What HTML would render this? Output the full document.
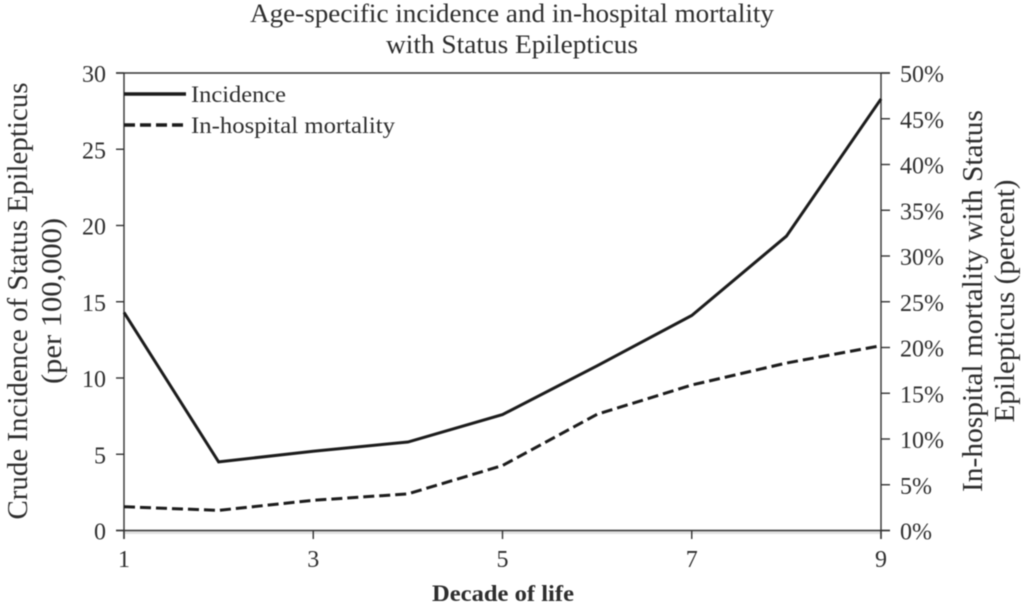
<!DOCTYPE html>
<html>
<head>
<meta charset="utf-8">
<style>
html,body{margin:0;padding:0;background:#fff;width:1024px;height:611px;overflow:hidden}
svg{display:block;filter:blur(.45px)}
text{font-family:"Liberation Serif","DejaVu Serif",serif;fill:#2e2e2e}
</style>
</head>
<body>
<svg id="chart" width="1024" height="611" viewBox="0 0 1024 611" xmlns="http://www.w3.org/2000/svg">
<rect width="1024" height="611" fill="#fff"/>
<text x="512" y="22" font-size="26" text-anchor="middle" textLength="524" lengthAdjust="spacingAndGlyphs">Age-specific incidence and in-hospital mortality</text>
<text x="512" y="53" font-size="26" text-anchor="middle" textLength="252" lengthAdjust="spacingAndGlyphs">with Status Epilepticus</text>
<text transform="translate(27 301) rotate(-90)" font-size="28" text-anchor="middle" textLength="437" lengthAdjust="spacingAndGlyphs">Crude Incidence of Status Epilepticus</text>
<text transform="translate(61 301) rotate(-90)" font-size="28" text-anchor="middle" textLength="166" lengthAdjust="spacingAndGlyphs">(per 100,000)</text>
<text transform="translate(982 301) rotate(-90)" font-size="28" text-anchor="middle" textLength="382" lengthAdjust="spacingAndGlyphs">In-hospital mortality with Status</text>
<text transform="translate(1014 301) rotate(-90)" font-size="28" text-anchor="middle" textLength="243" lengthAdjust="spacingAndGlyphs">Epilepticus (percent)</text>
<text x="503" y="601" font-size="23" font-weight="bold" text-anchor="middle" textLength="142" lengthAdjust="spacingAndGlyphs">Decade of life</text>
<rect x="125" y="531" width="756" height="3" fill="#e2e2e2"/>
<g id="axes"></g>
<g id="marks"></g>
<g>
<line x1="124" y1="94" x2="186" y2="94" stroke="#1c1c1c" stroke-width="3.4"/>
<text x="191" y="102" font-size="23" textLength="95" lengthAdjust="spacingAndGlyphs">Incidence</text>
<line x1="124" y1="125" x2="184" y2="125" stroke="#1c1c1c" stroke-width="3.4" stroke-dasharray="11 5"/>
<text x="191" y="133" font-size="23" textLength="204" lengthAdjust="spacingAndGlyphs">In-hospital mortality</text>
</g>
</svg>
<script>
const decades = [1, 2, 3, 4, 5, 6, 7, 8, 9];
const incidence = [14.3, 4.5, 5.2, 5.8, 7.6, 10.8, 14.1, 19.3, 28.3];
const mortality = [2.6, 2.2, 3.3, 4.0, 7.1, 12.7, 15.9, 18.3, 20.2];
const leftTicks = [0, 5, 10, 15, 20, 25, 30];
const rightTicks = [0, 5, 10, 15, 20, 25, 30, 35, 40, 45, 50];
const xTicks = [1, 3, 5, 7, 9];

const SVGNS = 'http://www.w3.org/2000/svg';
const plot = {left: 124, right: 881, top: 73, bottom: 530.5};
const xScale = v => plot.left + (v - 1) / 8 * (plot.right - plot.left);
const yLeft = v => plot.bottom - v / 30 * (plot.bottom - plot.top);
const yRight = v => plot.bottom - v / 50 * (plot.bottom - plot.top);
const axes = document.getElementById('axes');
const marks = document.getElementById('marks');

function makeLine(x1, y1, x2, y2, w) {
  const l = document.createElementNS(SVGNS, 'line');
  l.setAttribute('x1', x1);
  l.setAttribute('y1', y1);
  l.setAttribute('x2', x2);
  l.setAttribute('y2', y2);
  l.setAttribute('stroke', '#333');
  l.setAttribute('stroke-width', w);
  axes.appendChild(l);
  return l;
}
function makeText(x, y, str, anchor) {
  const t = document.createElementNS(SVGNS, 'text');
  t.setAttribute('x', x);
  t.setAttribute('y', y);
  t.setAttribute('font-size', '24');
  t.setAttribute('text-anchor', anchor);
  t.textContent = str;
  axes.appendChild(t);
  return t;
}

const frameTop = makeLine(116, plot.top, 890, plot.top, 1.4);


const frameBottom = makeLine(116, plot.bottom, 890, plot.bottom, 1.4);


const frameLeft = makeLine(plot.left, plot.top, plot.left, 539, 1.4);


const frameRight = makeLine(plot.right, plot.top, plot.right, 539, 1.4);



leftTicks.forEach(v => {
  const tick = makeLine(116, yLeft(v), plot.left, yLeft(v), 1.4);
  
  
  const label = makeText(106, yLeft(v) + 9, String(v), 'end');
  
  
});
rightTicks.forEach(v => {
  const tick = makeLine(plot.right, yRight(v), 890, yRight(v), 1.4);
  
  
  const label = makeText(900, yRight(v) + 9, v + '%', 'start');
  
  
});
xTicks.forEach(v => {
  const tick = makeLine(xScale(v), plot.bottom, xScale(v), 539, 1.4);
  
  
  const label = makeText(xScale(v), 567, String(v), 'middle');
  
  
});

function pts(vals, yFn) {
  return vals.map((v, i) => xScale(decades[i]) + ',' + yFn(v)).join(' ');
}
const incidenceLine = document.createElementNS(SVGNS, 'polyline');


incidenceLine.setAttribute('points', pts(incidence, yLeft));
incidenceLine.setAttribute('fill', 'none');
incidenceLine.setAttribute('stroke', '#1c1c1c');
incidenceLine.setAttribute('stroke-width', '3');
marks.appendChild(incidenceLine);

const mortalityLine = document.createElementNS(SVGNS, 'polyline');


mortalityLine.setAttribute('points', pts(mortality, yRight));
mortalityLine.setAttribute('fill', 'none');
mortalityLine.setAttribute('stroke', '#1c1c1c');
mortalityLine.setAttribute('stroke-width', '3');
mortalityLine.setAttribute('stroke-dasharray', '11 5');
marks.appendChild(mortalityLine);
</script>
</body>
</html>
